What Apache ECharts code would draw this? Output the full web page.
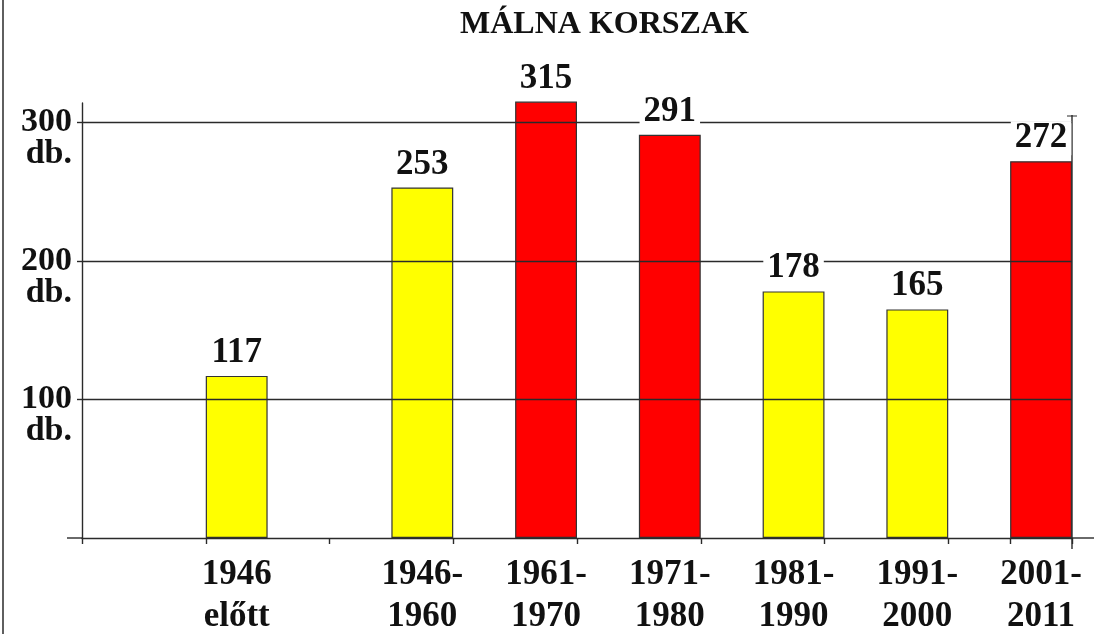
<!DOCTYPE html>
<html>
<head>
<meta charset="utf-8">
<script src="https://cdn.jsdelivr.net/npm/echarts@6/dist/echarts.min.js"></script>
<style>
  html, body { margin: 0; padding: 0; background: #ffffff; }
  #chart { width: 1094px; height: 634px; }
</style>
</head>
<body>
<div id="chart"></div>
<script>
// Raspberry-cane counts per period
const periods = ['1946\nelőtt', '1946-\n1960', '1961-\n1970', '1971-\n1980', '1981-\n1990', '1991-\n2000', '2001-\n2011'];
const counts = [117, 253, 315, 291, 178, 165, 272];
const yTicks = [100, 200, 300];
const yUnit = 'db.';

// Layout: the axis is split into 16 half-width slots; each period sits in one slot
const SLOT_COUNT = 16;
const periodSlot = [2, 5, 7, 9, 11, 13, 15];
const barColors = ['#ffff00', '#ffff00', '#ff0000', '#ff0000', '#ffff00', '#ffff00', '#ff0000'];

const slotLabels = new Array(SLOT_COUNT).fill('');
const slotValues = new Array(SLOT_COUNT).fill(null);
const slotColors = new Array(SLOT_COUNT).fill('transparent');
periodSlot.forEach(function (s, i) {
  slotLabels[s] = periods[i];
  slotValues[s] = counts[i];
  slotColors[s] = barColors[i];
});

const FONT = "'Liberation Serif', 'Times New Roman', serif";
const INK = '#111111';
const LINE = '#2a2a2a';

const chart = echarts.init(document.getElementById('chart'), null, { renderer: 'canvas' });

chart.setOption({
  animation: false,
  backgroundColor: '#ffffff',
  title: {
    text: 'MÁLNA KORSZAK',
    left: 455,
    top: 4,
    textStyle: { fontFamily: FONT, fontWeight: 'bold', fontSize: 32, color: INK }
  },
  grid: { left: 82, right: 22, top: 103, bottom: 96, containLabel: false, outerBoundsMode: 'none' },
  xAxis: {
    type: 'category',
    data: slotLabels,
    z: 3,
    axisLine: { show: true, lineStyle: { color: LINE, width: 1.4 } },
    axisTick: { show: true, interval: 1, length: 6, lineStyle: { color: LINE, width: 1.4 } },
    axisLabel: {
      interval: 0,
      margin: 16,
      fontFamily: FONT,
      fontWeight: 'bold',
      fontSize: 35,
      lineHeight: 42,
      color: INK
    },
    splitLine: { show: false }
  },
  yAxis: {
    type: 'value',
    min: 0,
    max: 314,
    interval: 100,
    z: 3,
    axisLine: { show: true, lineStyle: { color: LINE, width: 1.4 } },
    axisTick: { show: true, length: 5, customValues: yTicks, lineStyle: { color: LINE, width: 1.4 } },
    axisLabel: {
      margin: 10,
      customValues: yTicks,
      fontFamily: FONT,
      fontWeight: 'bold',
      fontSize: 34,
      lineHeight: 32,
      color: INK,
      align: 'right',
      formatter: function (v) {
        return yTicks.indexOf(v) >= 0 ? '\n' + v + '\n' + yUnit : '';
      }
    },
    splitLine: {
      show: true,
      lineStyle: { color: LINE, width: 1.4 }
    }
  },
  series: [
    {
      // the bars themselves
      type: 'bar',
      data: slotValues.map(function (v, i) {
        return v == null ? null : { value: v, itemStyle: { color: slotColors[i] } };
      }),
      barCategoryGap: '0%',
      barWidth: '100%',
      clip: false,
      z: 2,
      itemStyle: { borderColor: '#333333', borderWidth: 1.2 },
      label: { show: false }
    },
    {
      // value labels, kept above the grid lines
      type: 'bar',
      data: slotValues,
      barGap: '-100%',
      barWidth: '100%',
      clip: false,
      z: 4,
      silent: true,
      itemStyle: { color: 'transparent', borderWidth: 0 },
      label: {
        show: true,
        position: 'top',
        distance: 6,
        fontFamily: FONT,
        fontWeight: 'bold',
        fontSize: 35,
        lineHeight: 34,
        color: INK,
        backgroundColor: '#ffffff',
        padding: [0, 4, 0, 4]
      }
    }
  ],
  graphic: [
    // frame line on the left edge
    { type: 'line', shape: { x1: 3, y1: 0, x2: 3, y2: 634 }, style: { stroke: LINE, lineWidth: 1.5 } },
    // base line overhang on both sides of the plot
    { type: 'line', shape: { x1: 67, y1: 538, x2: 82, y2: 538 }, style: { stroke: LINE, lineWidth: 1.4 } },
    { type: 'line', shape: { x1: 1072, y1: 538, x2: 1094, y2: 538 }, style: { stroke: LINE, lineWidth: 1.4 } },
    // right-hand frame of the plot
    { type: 'line', shape: { x1: 1072, y1: 115, x2: 1072, y2: 549 }, style: { stroke: LINE, lineWidth: 1.4 } },
    { type: 'line', shape: { x1: 1067, y1: 116, x2: 1077, y2: 116 }, style: { stroke: LINE, lineWidth: 1 } }
  ]
});
</script>
</body>
</html>
